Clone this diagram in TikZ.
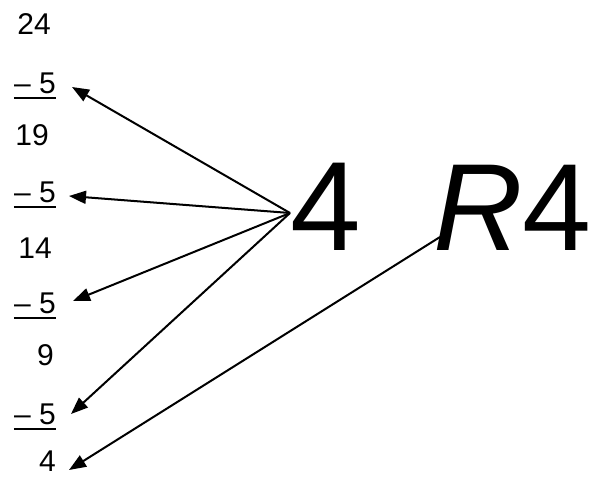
\documentclass[tikz,border=0pt]{standalone}
\usepackage{fontspec}
\setmainfont{Liberation Sans}
\usetikzlibrary{arrows.meta,calc}
\begin{document}
\begin{tikzpicture}[x=1pt,y=-1pt,
  num/.style={font=\fontsize{30}{30}\selectfont, inner sep=0pt, anchor=base east},
  big/.style={font=\fontsize{127}{127}\selectfont, inner sep=0pt, anchor=base west},
  arr/.style={line width=2pt, -{Triangle[length=17pt,width=13pt]}},
  ul/.style={line width=2.6pt}]
\useasboundingbox (0,0) rectangle (593,476);
% left column
\node[num] (n0) at (51,35) {24};
\node[num] (s1) at (56,93) {– 5};
\node[num] (n1) at (49,145) {19};
\node[num] (s2) at (56,202) {– 5};
\node[num] (n2) at (52,258) {14};
\node[num] (s3) at (56,313) {– 5};
\node[num] (n3) at (54,365) {9};
\node[num] (s4) at (56,424) {– 5};
\node[num] (n4) at (56,471) {4};
% underlines
\foreach \s in {s1,s2,s3,s4}
  \draw[ul] ($(\s.base west)+(0,5)$) -- ($(\s.base east)+(0,5)$);
% big text
\node[big] (big4) at (290,250) {4};
\node[big, font=\fontsize{124}{124}\selectfont] (R4) at (433,250) {\textit{R}4};
\coordinate (src) at ($(big4.base west)+(0,-37)$);
\coordinate (rs) at ($(R4.base west)+(7,-13)$);
% arrows
\draw[arr] (src) -- ($(s1.base east)+(16,-6)$);
\draw[arr] (src) -- ($(s2.base east)+(13,-6)$);
\draw[arr] (src) -- ($(s3.base east)+(17,-12)$);
\draw[arr] (src) -- ($(s4.base east)+(15,-10)$);
\draw[arr] (rs) -- ($(n4.base east)+(13,-1)$);
\end{tikzpicture}
\end{document}
